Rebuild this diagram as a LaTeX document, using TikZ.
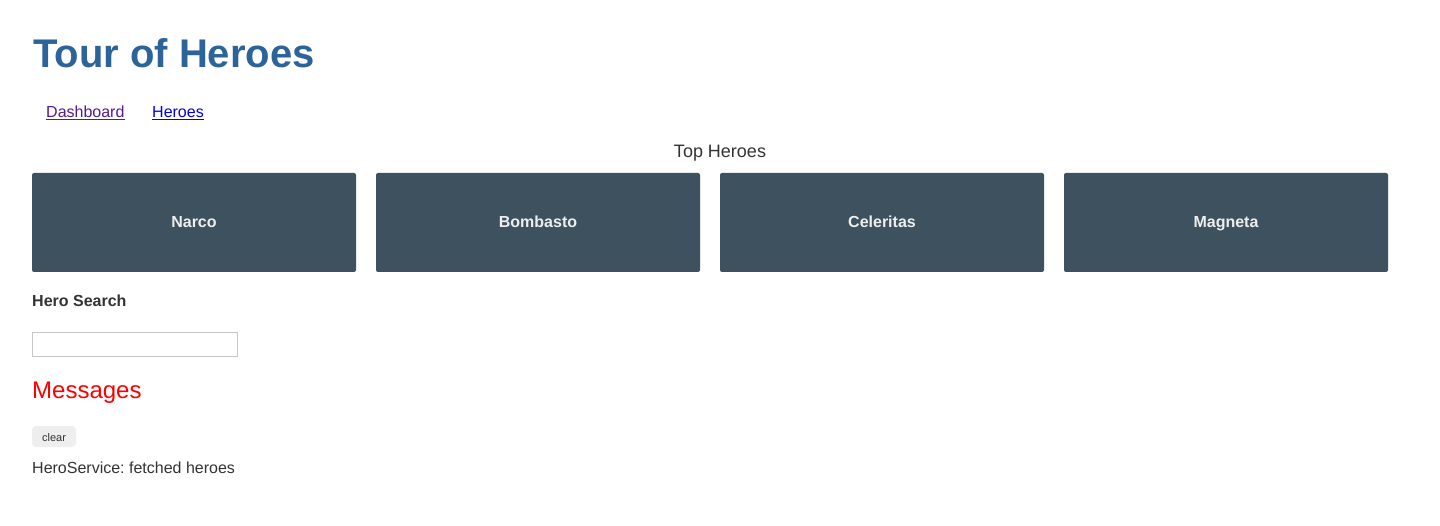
\documentclass[tikz,border=0pt]{standalone}
\usepackage{fontspec}
\setmainfont{Liberation Sans}
\usepackage{tikz}
\frenchspacing

\definecolor{titleblue}{RGB}{44,99,152}
\definecolor{visited}{RGB}{85,26,139}
\definecolor{linkblue}{RGB}{0,0,238}
\definecolor{slate}{RGB}{61,82,94}
\definecolor{textgray}{RGB}{51,51,51}
\definecolor{btngray}{RGB}{238,238,238}

\newcommand{\fs}[1]{\fontsize{#1}{#1}\selectfont}

\tikzset{
  txt/.style={inner sep=0pt, anchor=base west},
  tile/.style={fill=slate, rounded corners=2pt, draw=none},
  tilename/.style={inner sep=0pt, text=btngray, font=\fs{16}\bfseries}
}

\begin{document}
\begin{tikzpicture}[x=1pt, y=-1pt, style=thin]
    \useasboundingbox[fill=white] (0,0) rectangle (1440,526);

    \node[txt, text=titleblue, font=\fs{40}\bfseries] (title) at (33,68) {Tour of Heroes};
    \node[txt, text=visited, font=\fs{16}] (dash) at (46,118) {Dashboard};
    \node[txt, text=linkblue, font=\fs{16}] (heroes) at (152,118) {Heroes};
    \draw[visited, line width=1pt] ([yshift=-2pt]dash.base west) -- ([yshift=-2pt]dash.base east);
    \draw[linkblue, line width=1pt] ([yshift=-2pt]heroes.base west) -- ([yshift=-2pt]heroes.base east);

    \node[inner sep=0pt, anchor=base, text=textgray, font=\fs{18}] (top) at (720,158) {Top Heroes};

    \foreach \x/\name in {32/Narco, 376/Bombasto, 720/Celeritas, 1064/Magneta}{
        \fill[tile] (\x,173) rectangle ++(324,99);
        \node[tilename, anchor=base] (\name) at (\x+162,228) {\name};
      }

    \node[txt, text=textgray, font=\fs{16}\bfseries] (search) at (32,307) {Hero Search};
    \draw[black!22, line width=1pt] (32.5,332.5) rectangle (237.5,356.5);

    \node[txt, text=red, font=\fs{24}] (msgs) at (32,399) {Messages};
    \fill[btngray, rounded corners=4pt] (32,426) rectangle (76,447);
    \node[inner sep=0pt, anchor=base, text=textgray, font=\fs{11}] (clear) at (54,441) {clear};
    \node[txt, text=textgray, font=\fs{16}] (log) at (32,473) {HeroService: fetched heroes};
  \end{tikzpicture}
\end{document}
